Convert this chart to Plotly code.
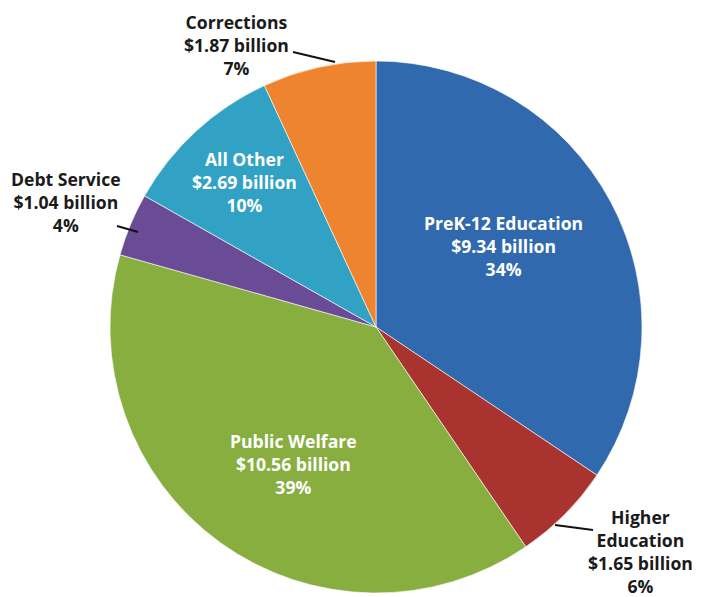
import plotly.graph_objects as go

W, H = 701, 597

categories = ["PreK-12 Education", "Higher Education", "Public Welfare",
              "Debt Service", "All Other", "Corrections"]
display_names = ["PreK-12 Education", "Higher<br>Education", "Public Welfare",
                 "Debt Service", "All Other", "Corrections"]
values = [9.34, 1.65, 10.56, 1.04, 2.69, 1.87]
percents = [34, 6, 39, 4, 10, 7]
colors = ["#3169AE", "#A9332F", "#87AE3F", "#6A4B95", "#31A2C4", "#EE8330"]
inside = [True, False, True, False, True, False]

# label centers in pixels (x, y of middle of text block)
label_pos = [(503, 246), (640, 551), (293, 464), (66, 202), (244, 182), (236, 45)]
leaders = [None, ((555, 525), (593, 530)), None, ((117, 226), (138, 232)), None,
           ((293, 52), (335, 62))]

fig = go.Figure()
cx, cy, r = 376, 327, 266
fig.add_trace(go.Pie(
    labels=categories, values=values, sort=False, direction="clockwise",
    rotation=0, marker=dict(colors=colors, line=dict(color="rgba(255,255,255,0.6)", width=1)),
    textinfo="none", hoverinfo="label+value+percent", showlegend=False,
    domain=dict(x=[(cx - r) / W, (cx + r) / W], y=[1 - (cy + r) / H, 1 - (cy - r) / H]),
))

annotations = []
shapes = []
for i, name in enumerate(display_names):
    txt = f"<b>{name}<br>${values[i]:.2f} billion<br>{percents[i]}%</b>"
    px, py = label_pos[i]
    annotations.append(dict(
        x=px / W, y=1 - py / H, xref="paper", yref="paper", text=txt,
        showarrow=False, xanchor="center", yanchor="middle", align="center",
        font=dict(family="Open Sans", size=17.6, color="white" if inside[i] else "#1a1a1a"),
    ))
    if leaders[i]:
        (x0, y0), (x1, y1) = leaders[i]
        shapes.append(dict(type="line", xref="paper", yref="paper",
                           x0=x0 / W, y0=1 - y0 / H, x1=x1 / W, y1=1 - y1 / H,
                           line=dict(color="#111111", width=2)))

fig.update_layout(
    width=W, height=H, margin=dict(l=0, r=0, t=0, b=0),
    paper_bgcolor="white", plot_bgcolor="white",
    annotations=annotations, shapes=shapes,
)
fig.write_html("out.html", config={"displayModeBar": False},
               post_script="document.body.style.margin='0';")
